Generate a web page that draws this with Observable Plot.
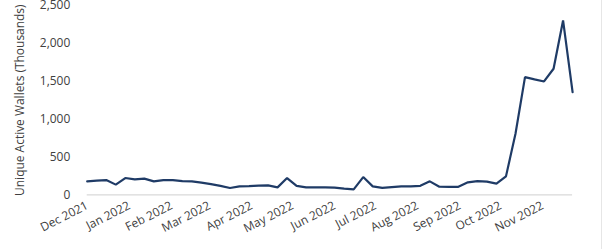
<!DOCTYPE html>
<html>
<head>
<meta charset="utf-8">
<script src="https://cdn.jsdelivr.net/npm/d3@7"></script>
<script src="https://cdn.jsdelivr.net/npm/@observablehq/plot@0.6"></script>
<style>
  html, body { margin: 0; padding: 0; background: #fff; }
  #chart { width: 601px; height: 249px; border-right: 1px solid #e6e6e6; overflow: hidden; }
  svg { font-family: "Open Sans", sans-serif; }
</style>
</head>
<body>
<div id="chart"></div>
<script>
const weeks = [
  "2021-12-01","2021-12-08","2021-12-15","2021-12-22","2021-12-29",
  "2022-01-05","2022-01-12","2022-01-19","2022-01-26",
  "2022-02-02","2022-02-09","2022-02-16","2022-02-23",
  "2022-03-02","2022-03-09","2022-03-16","2022-03-23","2022-03-30",
  "2022-04-06","2022-04-13","2022-04-20","2022-04-27",
  "2022-05-04","2022-05-11","2022-05-18","2022-05-25",
  "2022-06-01","2022-06-08","2022-06-15","2022-06-22","2022-06-29",
  "2022-07-06","2022-07-13","2022-07-20","2022-07-27",
  "2022-08-03","2022-08-10","2022-08-17","2022-08-24","2022-08-31",
  "2022-09-07","2022-09-14","2022-09-21","2022-09-28",
  "2022-10-05","2022-10-12","2022-10-19","2022-10-26",
  "2022-11-02","2022-11-09","2022-11-16","2022-11-23"
];
const wallets = [
  178, 187, 195, 135, 222, 204, 214, 178, 195, 195,
  182, 178, 161, 142, 119, 90, 112, 116, 121, 125,
  99, 222, 119, 99, 99, 99, 95, 82, 73, 235,
  112, 92, 102, 112, 112, 119, 178, 108, 106, 106,
  165, 182, 174, 148, 244, 807, 1554, 1524, 1497, 1665,
  2302, 1356
];
const yTicks = [0, 500, 1000, 1500, 2000, 2500];
const yLabel = "Unique Active Wallets (Thousands)";

const data = weeks.map((w, i) => ({date: new Date(w + "T00:00:00Z"), value: wallets[i]}));
const monthTicks = d3.utcMonth.range(new Date("2021-12-01T00:00:00Z"), new Date("2022-11-24T00:00:00Z"));

const chart = Plot.plot({
  width: 603,
  height: 249,
  marginLeft: 87,
  marginRight: 29,
  marginTop: 5,
  marginBottom: 54,
  style: {fontFamily: "Open Sans, sans-serif", fontSize: "12px", color: "#404040", background: "transparent"},
  x: {type: "utc", domain: [data[0].date, data[data.length - 1].date]},
  y: {domain: [0, 2500]},
  marks: [
    Plot.axisY({
      ticks: yTicks,
      tickSize: 0,
      tickPadding: 17,
      tickFormat: d3.format(","),
      label: yLabel,
      labelAnchor: "center",
      labelArrow: "none",
      labelOffset: 72,
      fontSize: 12
    }),
    Plot.axisX({
      ticks: monthTicks,
      tickSize: 0,
      tickPadding: 10,
      tickRotate: -27,
      tickFormat: d3.utcFormat("%b %Y"),
      label: null,
      fontSize: 12
    }),
    Plot.ruleY([0], {stroke: "#d9d9d9", strokeWidth: 1.2}),
    Plot.line(data, {x: "date", y: "value", stroke: "#1f3b66", strokeWidth: 2.2, strokeLinejoin: "miter"})
  ]
});
document.getElementById("chart").appendChild(chart);
</script>
</body>
</html>
